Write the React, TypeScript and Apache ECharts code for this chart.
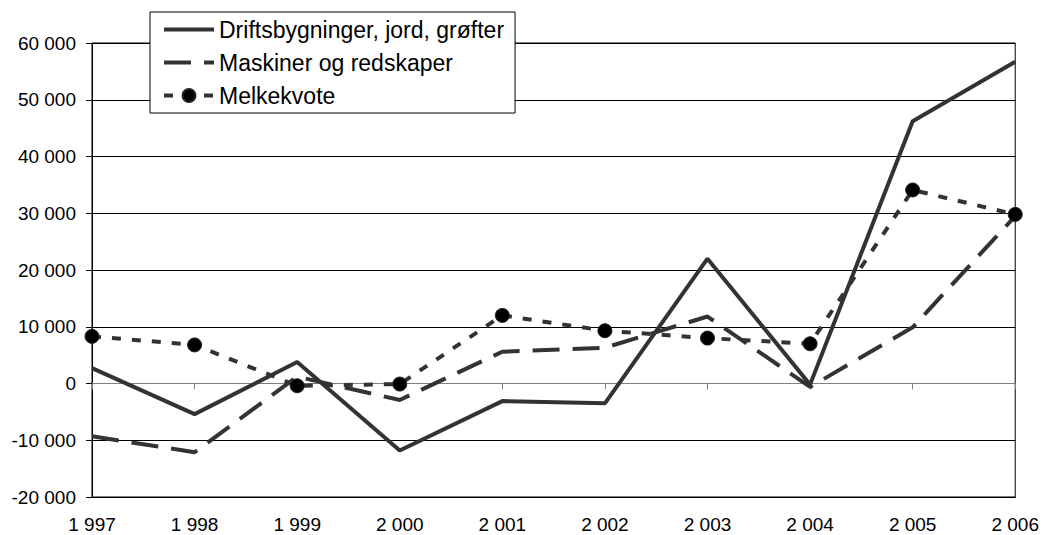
import React, { useEffect, useRef } from "react";
import * as echarts from "echarts";

const categories = ["1 997", "1 998", "1 999", "2 000", "2 001", "2 002", "2 003", "2 004", "2 005", "2 006"];
const seriesNames = ["Driftsbygninger, jord, grøfter", "Maskiner og redskaper", "Melkekvote"];
const drifts = [2700, -5400, 3800, -11800, -3100, -3500, 22000, -200, 46200, 56700];
const maskiner = [-9300, -12100, 1200, -2900, 5600, 6300, 11800, -600, 9900, 29500];
const melkekvote = [8300, 6800, -400, -100, 12000, 9300, 8000, 7000, 34100, 29800];
const yMin = -20000;
const yMax = 60000;
const yStep = 10000;

const FONT = "'Liberation Sans', Arial, sans-serif";

function fmt(v: number): string {
  const s = Math.abs(v).toString().replace(/\B(?=(\d{3})+(?!\d))/g, " ");
  return (v < 0 ? "-" : "") + s;
}

export default function App() {
  const ref = useRef<HTMLDivElement>(null);
  useEffect(() => {
    if (!ref.current) return;
    const chart = echarts.init(ref.current, undefined, { renderer: "svg" });
    chart.setOption({
      animation: false,
      backgroundColor: "#fff",
      textStyle: { fontFamily: FONT },
      grid: {
        left: 92,
        right: 26,
        top: 43,
        bottom: 38,
        show: true,
        borderColor: "#000",
        borderWidth: 1,
      },
      legend: {
        orient: "vertical",
        left: 150,
        top: 12,
        backgroundColor: "#fff",
        borderColor: "#000",
        borderWidth: 1,
        borderRadius: 0,
        padding: [6, 11, 6, 12],
        itemGap: 10,
        itemWidth: 50,
        itemHeight: 16,
        textStyle: { fontFamily: FONT, fontSize: 23, color: "#000" },
        data: [
          { name: seriesNames[0], itemStyle: { opacity: 0 }, lineStyle: { width: 4 } },
          { name: seriesNames[1], itemStyle: { opacity: 0 }, lineStyle: { width: 4 } },
          { name: seriesNames[2], lineStyle: { width: 4 } },
        ],
      },
      xAxis: [
        {
          type: "category",
          data: categories,
          boundaryGap: false,
          position: "bottom",
          axisLine: { onZero: false, lineStyle: { color: "#000", width: 1 } },
          axisTick: { show: false },
          axisLabel: { color: "#000", fontSize: 19, fontFamily: FONT, margin: 18 },
          splitLine: { show: false },
        },
        {
          type: "category",
          data: categories,
          boundaryGap: false,
          position: "bottom",
          axisLine: { onZero: true, lineStyle: { color: "#808080", width: 1 } },
          axisTick: { show: true, length: 6, lineStyle: { color: "#808080" } },
          axisLabel: { show: false },
          splitLine: { show: false },
        },
      ],
      yAxis: {
        type: "value",
        min: yMin,
        max: yMax,
        interval: yStep,
        axisLine: { show: true, lineStyle: { color: "#000", width: 1 } },
        axisTick: { show: true, length: 6, lineStyle: { color: "#000" } },
        axisLabel: { color: "#000", fontSize: 19, fontFamily: FONT, margin: 16, formatter: (v: number) => fmt(v) },
        splitLine: { show: true, lineStyle: { color: "#000", width: 1 } },
      },
      series: [
        {
          name: seriesNames[0],
          type: "line",
          xAxisIndex: 0,
          data: drifts,
          symbol: "none",
          lineStyle: { color: "#333", width: 4, type: "solid" },
          itemStyle: { color: "#333" },
        },
        {
          name: seriesNames[1],
          type: "line",
          xAxisIndex: 0,
          data: maskiner,
          symbol: "none",
          lineStyle: { color: "#333", width: 4, type: [27, 13] },
          itemStyle: { color: "#333" },
        },
        {
          name: seriesNames[2],
          type: "line",
          xAxisIndex: 0,
          data: melkekvote,
          symbol: "circle",
          symbolSize: 14,
          lineStyle: { color: "#333", width: 4, type: [9, 11] },
          itemStyle: { color: "#000", borderColor: "#222", borderWidth: 1 },
          z: 3,
        },
      ],
    });
    return () => chart.dispose();
  }, []);
  return (
    <div
      ref={ref}
      style={{ position: "fixed", left: 0, top: 0, width: 1042, height: 535 }}
    />
  );
}
